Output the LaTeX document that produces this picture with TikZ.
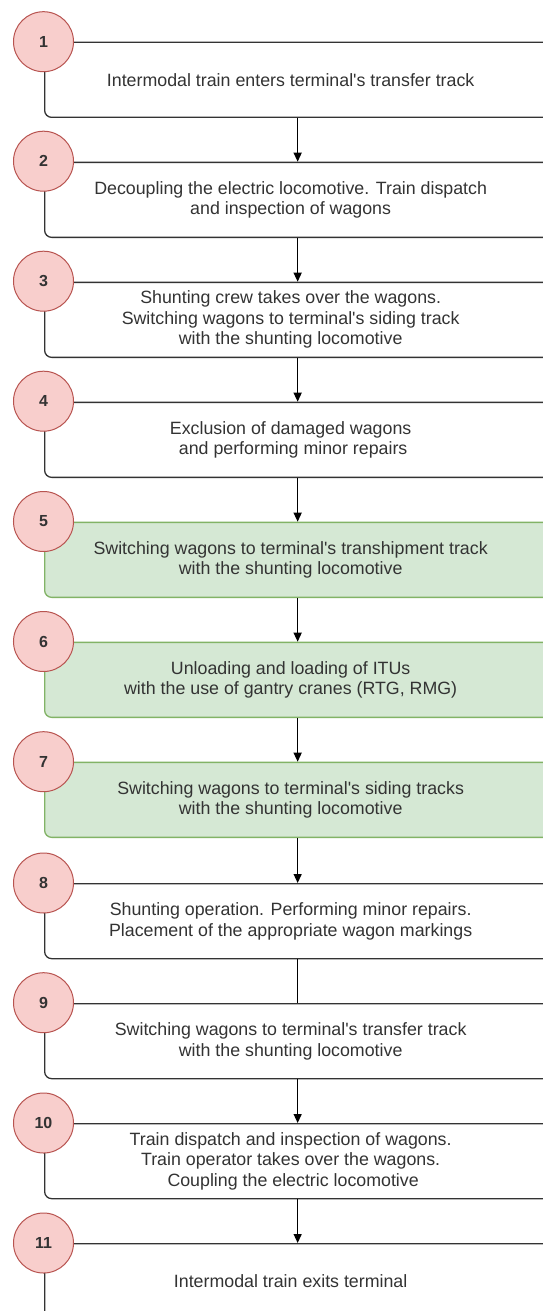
\documentclass[tikz,border=0pt]{standalone}
\usepackage{fontspec}
\setmainfont{Liberation Sans}
\usetikzlibrary{arrows.meta}
\definecolor{txtgray}{HTML}{333333}
\definecolor{redfill}{HTML}{F8CECC}
\definecolor{redline}{HTML}{B85450}
\definecolor{greenfill}{HTML}{D5E8D4}
\definecolor{greenline}{HTML}{82B366}
\definecolor{boxline}{HTML}{333333}
\newcommand{\ap}{\textquotesingle}
\begin{document}
\begin{tikzpicture}[x=1pt,y=-1pt,
  stepbox/.style={draw=boxline, line width=1.3pt, rounded corners=7pt, fill=white,
    minimum width=506pt, minimum height=75pt, anchor=north west, inner sep=0pt},
  greenbox/.style={stepbox, fill=greenfill, draw=greenline},
  steptext/.style={align=center, text=txtgray, inner sep=0pt, xshift=-7pt,
    font=\fontsize{17.8}{20.5}\selectfont},
  numcircle/.style={circle, draw=redline, fill=redfill, line width=1pt,
    minimum size=60pt, inner sep=0pt, text=txtgray, font=\fontsize{16}{16}\selectfont\bfseries},
  flow/.style={draw=black, line width=1.3pt, -{Triangle[length=9pt,width=8pt]}},
  link/.style={draw=black, line width=1.3pt}]
\useasboundingbox (0,0) rectangle (543,1311);
\clip (0,0) rectangle (543,1311);
\fill[white] (0,0) rectangle (543,1311);

\node[stepbox] (b1) at (44,41.7) {};
\node[stepbox] (b2) at (44,161.7) {};
\node[stepbox] (b3) at (44,281.7) {};
\node[stepbox] (b4) at (44,401.7) {};
\node[greenbox] (b5) at (44,521.7) {};
\node[greenbox] (b6) at (44,641.7) {};
\node[greenbox] (b7) at (44,761.7) {};
\node[stepbox] (b8) at (44,883) {};
\node[stepbox] (b9) at (44,1003) {};
\node[stepbox] (b10) at (44,1123) {};
\node[stepbox] (b11) at (44,1243) {};

\node[steptext] (t1) at (b1.center) {Intermodal train enters terminal\ap s transfer track};
\node[steptext] (t2) at (b2.center) {Decoupling the electric locomotive. Train dispatch\\and inspection of wagons};
\node[steptext] (t3) at (b3.center) {Shunting crew takes over the wagons.\\Switching wagons to terminal\ap s siding track\\with the shunting locomotive};
\node[steptext] (t4) at (b4.center) {Exclusion of damaged wagons\\\hspace*{5pt}and performing minor repairs};
\node[steptext] (t5) at (b5.center) {Switching wagons to terminal\ap s transhipment track\\with the shunting locomotive};
\node[steptext] (t6) at (b6.center) {Unloading and loading of ITUs\\with the use of gantry cranes (RTG, RMG)};
\node[steptext] (t7) at (b7.center) {Switching wagons to terminal\ap s siding tracks\\with the shunting locomotive};
\node[steptext] (t8) at (b8.center) {Shunting operation. Performing minor repairs.\\Placement of the appropriate wagon markings};
\node[steptext] (t9) at (b9.center) {Switching wagons to terminal\ap s transfer track\\with the shunting locomotive};
\node[steptext] (t10) at (b10.center) {Train dispatch and inspection of wagons.\\Train operator takes over the wagons.\\\hspace*{5pt}Coupling the electric locomotive};
\node[steptext] (t11) at (b11.center) {Intermodal train exits terminal};

\draw[flow] (b1.south) -- (b2.north);
\draw[flow] (b2.south) -- (b3.north);
\draw[flow] (b3.south) -- (b4.north);
\draw[flow] (b4.south) -- (b5.north);
\draw[flow] (b5.south) -- (b6.north);
\draw[flow] (b6.south) -- (b7.north);
\draw[flow] (b7.south) -- (b8.north);
\draw[link] (b8.south) -- (b9.north);
\draw[flow] (b9.south) -- (b10.north);
\draw[flow] (b10.south) -- (b11.north);

\node[numcircle] (c1) at (43.5,41.7) {1};
\node[numcircle] (c2) at (43.5,161.2) {2};
\node[numcircle] (c3) at (43.5,281.2) {3};
\node[numcircle] (c4) at (43.5,401.2) {4};
\node[numcircle] (c5) at (43.5,521.5) {5};
\node[numcircle] (c6) at (43.5,641.5) {6};
\node[numcircle] (c7) at (43.5,761.7) {7};
\node[numcircle] (c8) at (43.5,883) {8};
\node[numcircle] (c9) at (43.5,1002.7) {9};
\node[numcircle] (c10) at (43.5,1123) {10};
\node[numcircle] (c11) at (43.5,1243) {11};
\end{tikzpicture}
\end{document}
